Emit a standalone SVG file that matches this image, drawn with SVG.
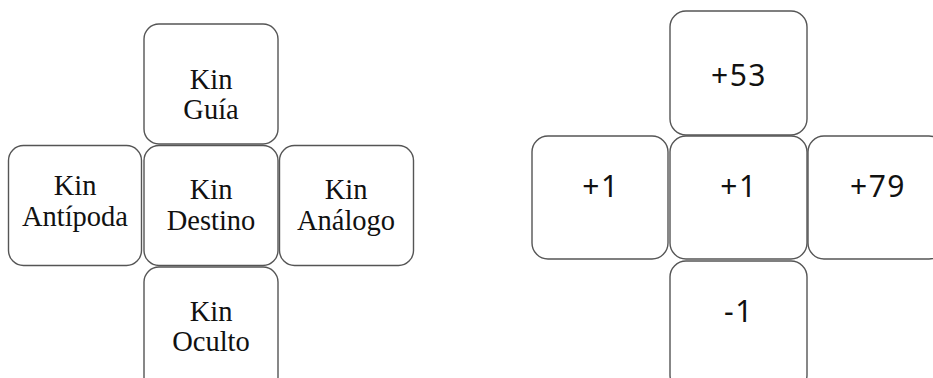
<svg xmlns="http://www.w3.org/2000/svg" width="933" height="378" viewBox="0 0 933 378">
<style>
.box{fill:#fff;stroke:#555;stroke-width:1.4}
.serif{font-family:"Liberation Serif","DejaVu Serif",serif;font-size:28.5px;fill:#111;text-anchor:middle}
.sans{font-family:"Noto Sans","Open Sans",sans-serif;font-size:30px;fill:#111;text-anchor:middle;letter-spacing:1.5px}
</style>
<rect width="933" height="378" fill="#fff"/>
<g id="kin-guia"><rect class="box" x="144" y="24" width="134" height="120" rx="15"/>
<text class="serif" x="211" y="89">Kin</text><text class="serif" x="211" y="119">Guía</text></g>
<g id="kin-antipoda"><rect class="box" x="8.5" y="145.5" width="133" height="120" rx="15"/>
<text class="serif" x="75" y="195">Kin</text><text class="serif" x="75" y="226">Antípoda</text></g>
<g id="kin-destino"><rect class="box" x="144" y="145.5" width="134" height="120" rx="15"/>
<text class="serif" x="211" y="199">Kin</text><text class="serif" x="211" y="230">Destino</text></g>
<g id="kin-analogo"><rect class="box" x="279.5" y="145.5" width="134" height="120" rx="15"/>
<text class="serif" x="346" y="199">Kin</text><text class="serif" x="346" y="230">Análogo</text></g>
<g id="kin-oculto"><rect class="box" x="144" y="267" width="134" height="125" rx="15"/>
<text class="serif" x="211" y="321">Kin</text><text class="serif" x="211" y="351">Oculto</text></g>

<g id="n-top"><rect class="box" x="670" y="11" width="137" height="124" rx="16"/>
<text class="sans" x="739" y="86">+53</text></g>
<g id="n-left"><rect class="box" x="532" y="136" width="136" height="123" rx="16"/>
<text class="sans" x="601" y="197">+1</text></g>
<g id="n-center"><rect class="box" x="670" y="136" width="137" height="123" rx="16"/>
<text class="sans" x="739" y="197">+1</text></g>
<g id="n-right"><rect class="box" x="808" y="136" width="137" height="123" rx="16"/>
<text class="sans" x="878" y="197">+79</text></g>
<g id="n-bottom"><rect class="box" x="670" y="261" width="137" height="130" rx="16"/>
<text class="sans" x="739" y="322">-1</text></g>
<g id="connectors"></g>
</svg>
